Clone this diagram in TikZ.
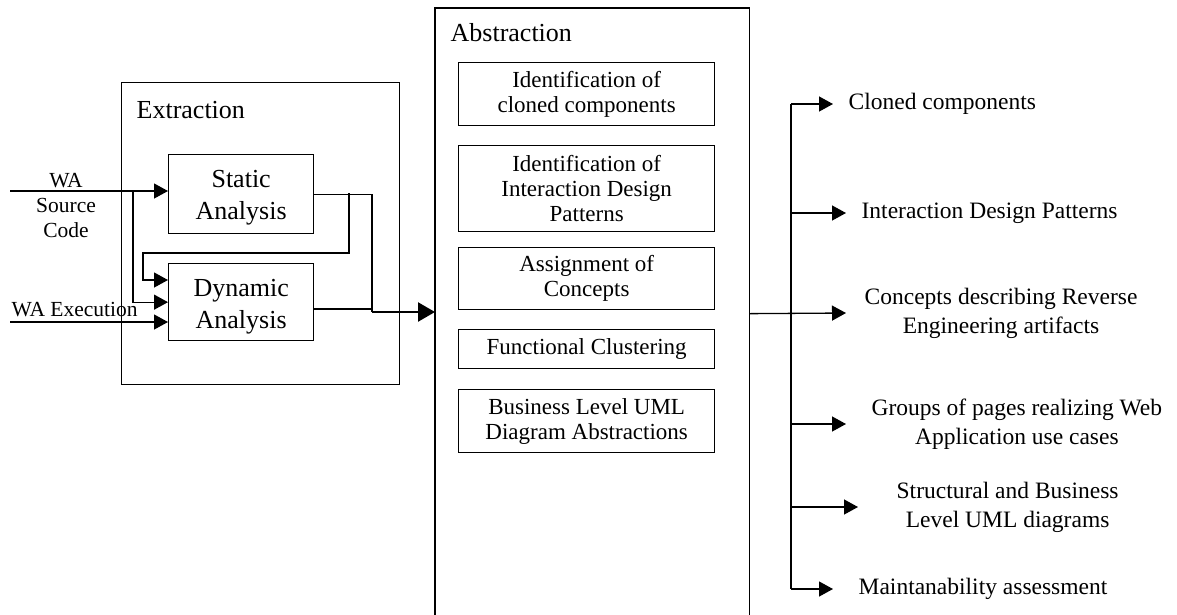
\documentclass[tikz,border=0pt]{standalone}
\usepackage{fontspec}
\setmainfont{Liberation Serif}
\usetikzlibrary{arrows.meta}
\begin{document}
\begin{tikzpicture}[x=1pt,y=-1pt,
  line width=1.3pt,
  tip/.style={-{Triangle[length=14pt,width=15pt]}},
  bigtip/.style={-{Triangle[length=17pt,width=19pt]}},
  frame/.style={draw, line width=1.3pt, inner sep=0pt, anchor=north west},
  label/.style={inner sep=0pt, align=center},
  hdr/.style={label, anchor=west, font=\fontsize{26}{30}\selectfont},
  proc/.style={frame, minimum width=145pt},
  proctext/.style={label, font=\fontsize{26}{32}\selectfont},
  task/.style={frame, minimum width=256pt, align=center, font=\fontsize{23}{25}\selectfont},
  inlbl/.style={label, font=\fontsize{21.5}{25}\selectfont},
  outlbl/.style={label, anchor=west, font=\fontsize{23.5}{29}\selectfont}]
\useasboundingbox (0,0) rectangle (1177,614);

% Extraction stage
\node[frame, minimum width=278pt, minimum height=302pt] (ext) at (121,82) {};
\node[hdr] (extl) at (136,110) {Extraction};
\node[proc, minimum height=79pt] (sta) at (168,154) {};
\node[proctext] (stal) at ([yshift=-4pt]sta.center) {Static\\Analysis};
\node[proc, minimum height=77pt] (dyn) at (168,263) {};
\node[proctext] (dynl) at ([yshift=-5pt]dyn.center) {Dynamic\\Analysis};

% Inputs
\node[inlbl] (srcl) at (66,206) {WA\\Source\\Code};
\node[inlbl, anchor=west] (exel) at (11,310) {WA Execution};
\coordinate (srcin) at (10,191);
\coordinate (exein) at (10,322);
\coordinate (srcsplit) at (133,191);
\draw[tip] (srcin) -- (srcin -| sta.west);
\draw[tip] (srcsplit) |- (dyn.west);
\draw[tip] (exein) -- (exein -| dyn.west);

% Feedback from static to dynamic analysis
\coordinate (fb) at (349,193);
\coordinate (fbl) at (143,253);
\coordinate (fbin) at (168,280);
\draw[tip] (fb) |- (fbl) |- (fbin);

% Abstraction stage (open at the bottom)
\node[minimum width=313pt, minimum height=610pt, inner sep=0pt, anchor=north west] (abs) at (435,8) {};
\draw (abs.south west) -- (abs.north west) -- (abs.north east) -- (abs.south east);
\node[hdr] (absl) at (450,33) {Abstraction};
\node[task, minimum height=63pt] (t1) at (458,62) {Identification of\\cloned components};
\node[task, minimum height=86pt] (t2) at (458,145) {Identification of\\Interaction Design\\Patterns};
\node[task, minimum height=62pt] (t3) at (458,247) {Assignment of\\Concepts};
\node[task, minimum height=39pt] (t4) at (458,329) {Functional Clustering};
\node[task, minimum height=63pt] (t5) at (458,389) {Business Level UML\\Diagram Abstractions};

% Extraction results into abstraction
\coordinate (join) at (372,312);
\draw (sta.east) -| (join);
\draw (dyn.east |- 0,309) -- (372,309);
\draw[bigtip, line width=2.4pt] (join) -- (join -| abs.west);

% Results
\node[outlbl] (o1) at (848,104) {Cloned components};
\node[outlbl] (o2) at (861,213) {Interaction Design Patterns};
\node[outlbl] (o3) at (864,313) {Concepts describing Reverse\\Engineering artifacts};
\node[outlbl] (o4) at (871,424) {Groups of pages realizing Web\\Application use cases};
\node[outlbl] (o5) at (896,507) {Structural and Business\\Level UML diagrams};
\node[outlbl] (o6) at (858,589) {Maintanability assessment};

\coordinate (bus) at (791,0);
\draw (bus |- o1.west) -- (bus |- o6.west);
\draw[tip] (abs.east) -- ([xshift=-18pt]o3.west);
\draw[tip] (bus |- o1.west) -- ([xshift=-15pt]o1.west);
\draw[tip] (bus |- o2.west) -- ([xshift=-15pt]o2.west);
\draw[tip] (bus |- o4.west) -- ([xshift=-25pt]o4.west);
\draw[tip] (bus |- o5.west) -- ([xshift=-38pt]o5.west);
\draw[tip] (bus |- o6.west) -- ([xshift=-25pt]o6.west);
\end{tikzpicture}
\end{document}
